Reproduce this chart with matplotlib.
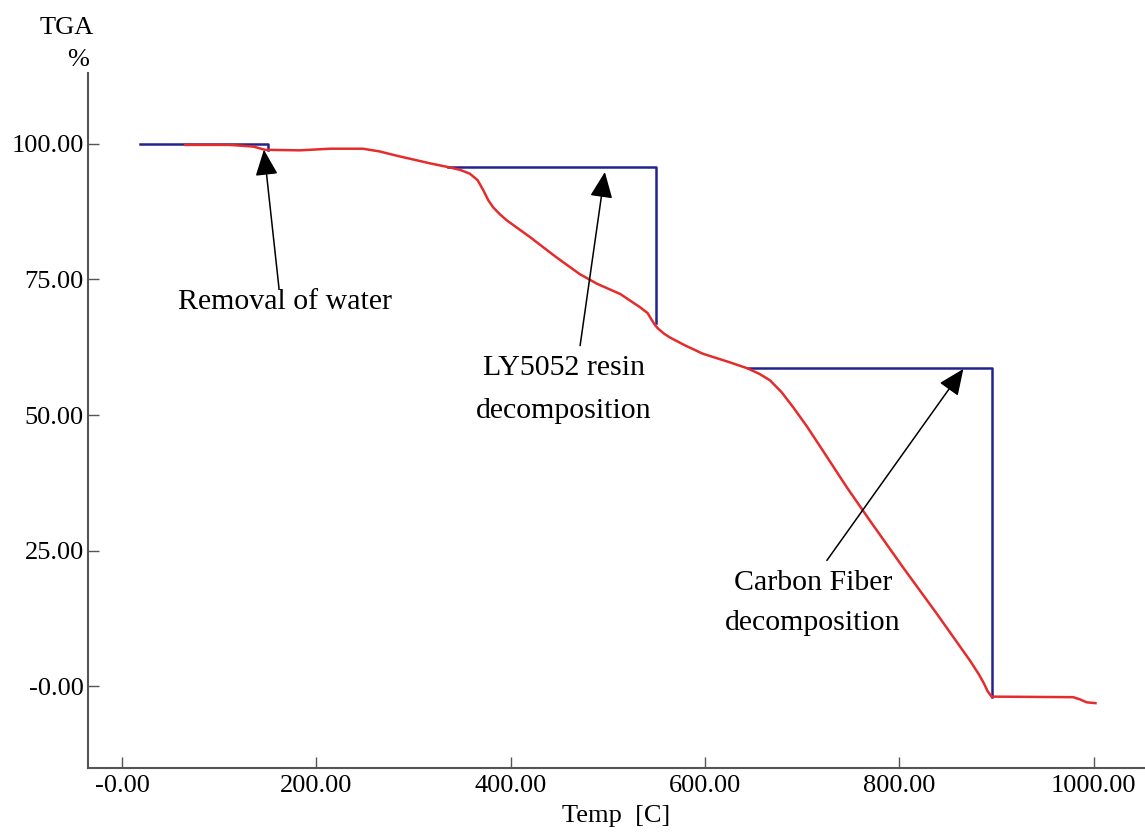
import numpy as np
import matplotlib.pyplot as plt

plt.rcParams['font.family'] = ['Liberation Serif', 'DejaVu Serif']

# TGA curve
temp = [65, 111, 135, 147, 183, 214, 248, 265, 283, 300, 317, 336, 348, 358,
        366, 372, 377, 382, 389, 396, 420, 447, 471, 489, 513, 533, 541, 545,
        549, 552, 558, 564, 580, 598, 626, 644, 656, 667, 679, 691, 705, 719,
        746, 770, 804, 839, 873, 882, 887, 891, 895, 979, 986, 993, 1002]
mass = [99.8, 99.8, 99.5, 98.9, 98.8, 99.1, 99.1, 98.6, 97.8, 97.1, 96.4,
        95.7, 95.2, 94.5, 93.3, 91.4, 89.6, 88.3, 87.0, 85.9, 82.8, 79.1,
        76.0, 74.2, 72.3, 69.9, 68.8, 67.6, 66.5, 65.9, 65.0, 64.3, 62.8,
        61.3, 59.7, 58.6, 57.6, 56.4, 54.2, 51.4, 47.9, 44.1, 36.7, 30.5,
        21.9, 13.3, 4.7, 2.2, 0.6, -0.9, -1.9, -2.0, -2.4, -2.95, -3.1]

# step markers (blue)
step1_x = [18.5, 150, 150]
step1_y = [100, 100, 98.9]
step2_x = [336, 550, 550]
step2_y = [95.7, 95.7, 66.9]
step3_x = [644.5, 895.4, 895.4]
step3_y = [58.6, 58.6, -1.9]

# annotations: text, arrow tip, text position, arrow tail
notes = [("Removal of water", (146, 98.9), (168, 70.9)),
         ("LY5052 resin\ndecomposition", (497, 94.8), (455, 54.8)),
         ("Carbon Fiber\ndecomposition", (866, 58.5), (711, 15.4))]
tails = [(161.6, 73.3), (471.5, 62.8), (725.5, 23.2)]
spacing = [1.2, 1.85, 1.7]

xticks = [0, 200, 400, 600, 800, 1000]
xlabels = ["-0.00", "200.00", "400.00", "600.00", "800.00", "1000.00"]
yticks = [0, 25, 50, 75, 100]
ylabels = ["-0.00", "25.00", "50.00", "75.00", "100.00"]

fig = plt.figure(figsize=(11.45, 8.33), dpi=100)
ax = fig.add_axes([0.0769, 0.0784, 0.9231, 0.8336])

for sx, sy in [(step1_x, step1_y), (step2_x, step2_y), (step3_x, step3_y)]:
    ax.plot(sx, sy, color='#23238f', lw=1.8)
ax.plot(temp, mass, color='#e52b2b', lw=1.8)

for (txt, tip, pos), tail, ls in zip(notes, tails, spacing):
    ax.annotate("", xy=tip, xytext=tail,
                arrowprops=dict(arrowstyle='-|>,head_length=1.6,head_width=0.7',
                                color='black', lw=1.1, shrinkA=0, shrinkB=0))
    ax.text(pos[0], pos[1], txt, ha='center', va='center', fontsize=21.5,
            linespacing=ls)

ax.set_xlim(-35, 1053)
ax.set_ylim(-15, 113)
ax.set_xticks(xticks)
ax.set_xticklabels(xlabels)
ax.set_yticks(yticks)
ax.set_yticklabels(ylabels)
ax.tick_params(direction='in', length=8, width=1.0, color='#555555',
               labelsize=19, pad=3)
ax.tick_params(axis='x', pad=5)
for s in ['top', 'right']:
    ax.spines[s].set_visible(False)
for s in ['left', 'bottom']:
    ax.spines[s].set_color('#555555')
    ax.spines[s].set_linewidth(1.5)

ax.set_xlabel("Temp  [C]", fontsize=19, labelpad=6)
fig.text(67 / 1145, 1 - 28 / 833, "TGA", ha='center', va='center', fontsize=19)
fig.text(78 / 1145, 1 - 60 / 833, "%", ha='center', va='center', fontsize=19)

fig.savefig("out.png", dpi=100)
